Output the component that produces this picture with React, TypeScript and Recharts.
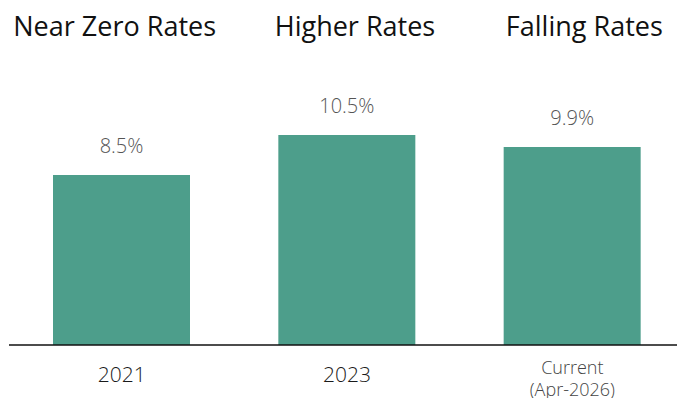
import { Bar, BarChart, LabelList, XAxis, YAxis } from "recharts"

const categories = ["2021", "2023", "Current\n(Apr-2026)"]
const rates = [8.5, 10.5, 9.9]
const regimes = ["Near Zero Rates", "Higher Rates", "Falling Rates"]

const data = categories.map((name, i) => ({ name, rate: rates[i], regime: regimes[i] }))

const font = "'Open Sans', 'Noto Sans', sans-serif"

// the headline titles aren't quite centred on the bars in the original
const titleShift = [-7, 8, 12]

function BottomTick(props: any) {
    const { x, y, payload } = props
    const lines = String(payload.value).split("\n")
    if (lines.length === 1) {
        return <text x={x} y={y + 29} textAnchor="middle" fontFamily={font} fontSize={21} fontWeight={300} fill="#1a1a1a">{lines[0]}</text>
    }
    return <g>
        {lines.map((l, i) =>
            <text key={i} x={x} y={y + 21 + i * 22} textAnchor="middle" fontFamily={font} fontSize={18} fontWeight={300} fill="#444">{l}</text>
        )}
    </g>
}

function TopTick(props: any) {
    const { x, payload, index } = props
    return <text x={x + titleShift[index]} y={36} textAnchor="middle" fontFamily={font} fontSize={27} fill="#111">{payload.value}</text>
}

export default function App() {

    return <>
        <div style={{ margin: -8, width: 685, height: 406, background: "#fff" }}>
            <BarChart width={685} height={406} data={data} margin={{ top: 75, right: 0, bottom: 31, left: 9 }} barCategoryGap={44}>
                <XAxis dataKey="name" height={30} axisLine={{ stroke: "#111", strokeWidth: 1.5 }} tickLine={false} tick={<BottomTick />} interval={0} />
                <XAxis xAxisId="top" dataKey="regime" height={30} orientation="top" axisLine={false} tickLine={false} tick={<TopTick />} interval={0} />
                <YAxis hide domain={[0, 12]} />
                <Bar dataKey="rate" fill="#4d9e8b" isAnimationActive={false}>
                    <LabelList dataKey="rate" position="top" offset={22} formatter={(v: any) => `${v}%`}
                        style={{ fontFamily: font, fontSize: 20, fontWeight: 300, fill: "#555" }} />
                </Bar>
            </BarChart>
        </div>
    </>
}
